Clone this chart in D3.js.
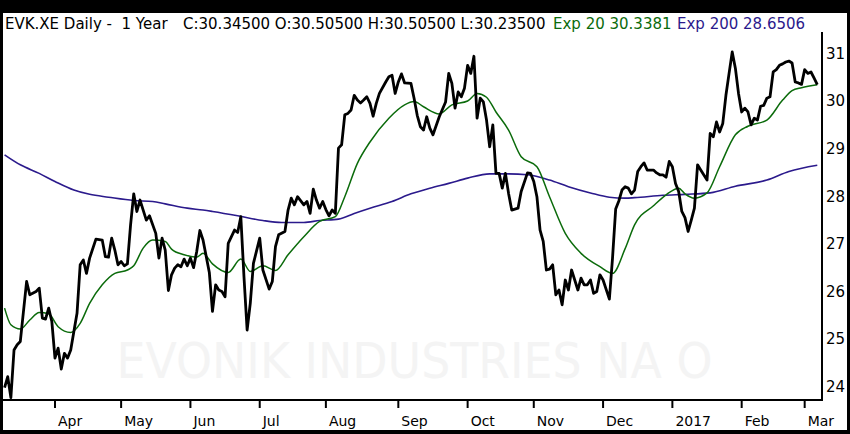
<!DOCTYPE html>
<html>
<head>
<meta charset="utf-8">
<script src="https://cdn.jsdelivr.net/npm/d3@7"></script>
<style>
  body { margin: 0; background: #000; }
  text { font-family: "DejaVu Sans", Verdana, sans-serif; white-space: pre; }
</style>
</head>
<body>
<div id="chart"></div>
<script>
// daily closes (trading days only)
var closeDates = [
  "2016-03-10","2016-03-11","2016-03-14","2016-03-15","2016-03-16","2016-03-17","2016-03-21","2016-03-22",
  "2016-03-24","2016-03-25","2016-03-28","2016-03-29","2016-03-30","2016-03-31",
  "2016-04-01","2016-04-04","2016-04-05","2016-04-06","2016-04-07","2016-04-08","2016-04-11","2016-04-12",
  "2016-04-13","2016-04-14","2016-04-15","2016-04-18","2016-04-20","2016-04-22","2016-04-25","2016-04-26",
  "2016-04-27","2016-04-28","2016-04-29",
  "2016-05-02","2016-05-03","2016-05-04","2016-05-05","2016-05-06","2016-05-09","2016-05-10","2016-05-12",
  "2016-05-13","2016-05-17","2016-05-18","2016-05-19","2016-05-20","2016-05-23","2016-05-24","2016-05-25",
  "2016-05-26","2016-05-27","2016-05-30","2016-05-31",
  "2016-06-01","2016-06-02","2016-06-03","2016-06-06","2016-06-07","2016-06-09","2016-06-10","2016-06-13",
  "2016-06-14","2016-06-15","2016-06-16","2016-06-17","2016-06-21","2016-06-22","2016-06-23","2016-06-24",
  "2016-06-27","2016-06-28","2016-06-29",
  "2016-07-01","2016-07-04","2016-07-06","2016-07-07","2016-07-08","2016-07-11","2016-07-13","2016-07-14",
  "2016-07-15","2016-07-18","2016-07-19","2016-07-21","2016-07-22","2016-07-25","2016-07-26","2016-07-27",
  "2016-07-28","2016-07-29",
  "2016-08-01","2016-08-02","2016-08-03","2016-08-04","2016-08-05","2016-08-08","2016-08-09","2016-08-10",
  "2016-08-11","2016-08-12","2016-08-15","2016-08-16","2016-08-17","2016-08-18","2016-08-19","2016-08-22",
  "2016-08-23","2016-08-24","2016-08-26","2016-08-29","2016-08-30","2016-08-31",
  "2016-09-01","2016-09-02","2016-09-05","2016-09-07","2016-09-08","2016-09-09","2016-09-12","2016-09-13",
  "2016-09-14","2016-09-15","2016-09-16","2016-09-20","2016-09-22","2016-09-23","2016-09-26","2016-09-27",
  "2016-09-28","2016-09-29","2016-09-30",
  "2016-10-03","2016-10-04","2016-10-05","2016-10-06","2016-10-07","2016-10-10","2016-10-11","2016-10-12",
  "2016-10-13","2016-10-14","2016-10-17","2016-10-18","2016-10-19","2016-10-20","2016-10-21","2016-10-25",
  "2016-10-26","2016-10-28","2016-10-31",
  "2016-11-01","2016-11-02","2016-11-03","2016-11-04","2016-11-07","2016-11-08","2016-11-09","2016-11-10",
  "2016-11-11","2016-11-14","2016-11-15","2016-11-16","2016-11-17","2016-11-18","2016-11-21","2016-11-22",
  "2016-11-23","2016-11-24","2016-11-25","2016-11-28","2016-11-29","2016-11-30",
  "2016-12-01","2016-12-05","2016-12-06","2016-12-07","2016-12-08","2016-12-09","2016-12-12","2016-12-13",
  "2016-12-14","2016-12-15","2016-12-16","2016-12-19","2016-12-20","2016-12-21","2016-12-23","2016-12-26",
  "2016-12-27","2016-12-28","2016-12-29","2016-12-30",
  "2017-01-02","2017-01-03","2017-01-04","2017-01-05","2017-01-06","2017-01-09","2017-01-10","2017-01-11",
  "2017-01-12","2017-01-13","2017-01-17","2017-01-18","2017-01-19","2017-01-20","2017-01-23","2017-01-24",
  "2017-01-25","2017-01-26","2017-01-27","2017-01-30","2017-01-31",
  "2017-02-01","2017-02-02","2017-02-03","2017-02-06","2017-02-07","2017-02-08","2017-02-09","2017-02-10",
  "2017-02-13","2017-02-14","2017-02-15","2017-02-16","2017-02-17","2017-02-20","2017-02-21","2017-02-22",
  "2017-02-23","2017-02-24","2017-02-27","2017-02-28",
  "2017-03-01","2017-03-02","2017-03-03","2017-03-06","2017-03-07"
];
var closeValues = [
  23.98,24.21,23.77,24.77,24.88,24.95,26.21,25.93,
  26.00,26.07,25.44,25.42,25.65,25.37,
  24.60,24.81,24.37,24.70,24.60,24.77,25.16,25.54,
  26.56,26.66,26.38,26.70,27.10,27.08,26.73,26.72,
  27.12,26.87,26.56,
  26.63,26.54,26.58,27.40,28.05,27.68,27.92,27.50,
  27.59,27.22,26.70,27.12,26.87,26.02,26.35,26.49,
  26.56,26.52,26.68,26.54,
  26.70,26.50,26.84,27.28,27.08,26.40,25.58,26.14,
  26.03,26.00,25.89,27.01,27.29,27.24,27.57,26.31,
  25.19,25.75,26.59,
  27.12,26.45,26.05,26.21,26.94,27.19,27.26,27.71,
  27.96,27.82,27.99,27.82,27.89,27.64,28.15,27.92,
  27.75,27.89,
  27.72,27.59,27.71,27.64,29.01,29.08,29.71,29.74,
  29.81,30.12,30.02,29.96,30.02,30.09,29.95,29.68,
  29.95,30.16,30.40,30.51,30.54,30.16,
  30.40,30.57,30.38,30.37,30.06,29.70,29.46,29.39,
  29.67,29.43,29.29,29.67,29.98,30.58,30.37,29.85,
  30.19,30.09,30.27,
  30.75,30.58,30.94,29.64,30.06,29.98,29.60,29.04,
  29.50,28.48,28.48,28.17,28.48,28.06,27.71,27.75,
  28.10,28.49,28.48,
  28.31,27.99,27.29,27.05,26.45,26.47,26.56,25.93,
  26.03,25.72,26.24,26.03,26.45,26.24,26.03,26.28,
  26.14,26.14,26.24,25.96,26.00,26.35,
  26.24,25.84,26.70,27.73,27.90,28.13,28.20,28.17,
  28.05,28.13,28.52,28.62,28.70,28.55,28.55,28.49,
  28.45,28.45,28.40,28.73,
  28.62,28.27,28.10,27.68,27.55,27.26,27.50,27.75,
  28.66,28.55,28.34,29.32,29.25,29.56,29.35,29.53,
  30.12,30.58,31.03,30.69,30.16,
  29.77,29.85,29.77,29.50,29.64,29.60,29.89,29.91,
  30.06,30.09,30.61,30.66,30.75,30.78,30.82,30.84,
  30.80,30.40,30.38,30.35,
  30.66,30.58,30.61,30.48,30.345
];

// 20-day exponential average
var ema20Dates = [
  "2016-03-10","2016-03-14","2016-03-17","2016-03-22","2016-03-25","2016-03-30","2016-04-04","2016-04-08",
  "2016-04-13","2016-04-18","2016-04-22","2016-04-28","2016-05-04","2016-05-06","2016-05-11","2016-05-16",
  "2016-05-20","2016-05-24","2016-05-30","2016-06-03","2016-06-07","2016-06-10","2016-06-17","2016-06-23",
  "2016-06-28","2016-07-04","2016-07-08","2016-07-14","2016-07-21","2016-07-28","2016-08-04","2016-08-09",
  "2016-08-15","2016-08-19","2016-08-29","2016-09-05","2016-09-08","2016-09-13","2016-09-20","2016-09-26",
  "2016-10-03","2016-10-06","2016-10-11","2016-10-14","2016-10-20","2016-10-26","2016-11-02","2016-11-08",
  "2016-11-15","2016-11-22","2016-11-30","2016-12-06","2016-12-12","2016-12-15","2016-12-23","2016-12-29",
  "2017-01-04","2017-01-06","2017-01-11","2017-01-17","2017-01-23","2017-01-30","2017-02-03","2017-02-13",
  "2017-02-20","2017-02-23","2017-02-28","2017-03-07"
];
var ema20Values = [
  25.65,25.30,25.21,25.40,25.56,25.53,25.26,25.14,
  25.33,25.75,26.14,26.38,26.45,26.54,26.91,27.08,
  27.05,26.89,26.77,26.72,26.80,26.58,26.40,26.68,
  26.42,26.54,26.44,26.77,27.15,27.47,27.57,27.99,
  28.69,29.14,29.64,29.92,29.99,29.88,29.73,29.92,
  30.00,30.16,30.08,29.77,29.39,28.83,28.62,27.99,
  27.22,26.80,26.52,26.38,26.90,27.40,27.80,28.03,
  28.17,28.05,27.96,28.07,28.62,29.29,29.47,29.60,
  30.02,30.22,30.28,30.34
];

// 200-day exponential average
var ema200Dates = [
  "2016-03-10","2016-03-17","2016-03-25","2016-04-01","2016-04-11","2016-04-18","2016-04-26","2016-05-06",
  "2016-05-16","2016-05-20","2016-05-31","2016-06-07","2016-06-10","2016-06-22","2016-07-04","2016-07-12",
  "2016-07-21","2016-07-28","2016-08-05","2016-08-12","2016-08-19","2016-08-30","2016-09-07","2016-09-15",
  "2016-09-23","2016-10-03","2016-10-12","2016-10-20","2016-10-28","2016-11-08","2016-11-16","2016-11-25",
  "2016-12-05","2016-12-12","2016-12-15","2016-12-28","2017-01-06","2017-01-18","2017-01-30","2017-02-13",
  "2017-02-22","2017-03-07"
];
var ema200Values = [
  28.87,28.66,28.48,28.31,28.13,28.04,27.98,27.91,
  27.89,27.84,27.75,27.71,27.68,27.59,27.49,27.45,
  27.45,27.49,27.52,27.64,27.75,27.89,28.05,28.17,
  28.27,28.38,28.47,28.47,28.45,28.34,28.20,28.07,
  27.98,27.96,27.97,28.02,28.04,28.07,28.21,28.34,
  28.52,28.65
];

var priceTicks = [24, 25, 26, 27, 28, 29, 30, 31];
var priceRange = [23.72, 31.45];

var titleText = "EVK.XE Daily -  1 Year";
var ohlcText = "C:30.34500 O:30.50500 H:30.50500 L:30.23500";
var ema20Label = "Exp 20 30.3381";
var ema200Label = "Exp 200 28.6506";
var watermarkText = "EVONIK INDUSTRIES NA O";

var width = 850, height = 434;
var frame = {left: 3, top: 13, right: 847, bottom: 430};
var plot = {left: 3, top: 32, right: 822, bottom: 400};

var parse = d3.timeParse("%Y-%m-%d");
var firstDay = parse(closeDates[0]);
var lastDay = parse(closeDates[closeDates.length - 1]);

function isWeekday(t) { var w = t.getDay(); return w !== 0 && w !== 6; }
// position on a trading-day axis (weekends are skipped)
function session(d) { return d3.timeDay.range(firstDay, d).filter(isWeekday).length; }

var x = d3.scaleLinear()
    .domain([-0.5, session(lastDay) + 1.5])
    .range([plot.left, plot.right]);
var y = d3.scaleLinear()
    .domain(priceRange)
    .range([plot.bottom, plot.top]);

function series(dates, values) {
    return dates.map(function(d, i) { return {date: parse(d), value: values[i]}; });
}
var closes = series(closeDates, closeValues);
var ema20 = series(ema20Dates, ema20Values);
var ema200 = series(ema200Dates, ema200Values);

var svg = d3.select("#chart").append("svg")
    .attr("width", width)
    .attr("height", height);

svg.append("rect").attr("width", width).attr("height", height).attr("fill", "#000");
svg.append("rect")
    .attr("x", frame.left).attr("y", frame.top)
    .attr("width", frame.right - frame.left).attr("height", frame.bottom - frame.top)
    .attr("fill", "#fff");

svg.append("clipPath").attr("id", "clip")
  .append("rect")
    .attr("x", plot.left).attr("y", plot.top)
    .attr("width", plot.right - plot.left).attr("height", plot.bottom - plot.top);

// faint watermark
svg.append("text")
    .attr("x", (plot.left + plot.right) / 2 + 2)
    .attr("y", 378)
    .attr("text-anchor", "middle")
    .attr("font-size", 50)
    .attr("textLength", 596)
    .attr("lengthAdjust", "spacingAndGlyphs")
    .attr("fill", "#f4f4f4")
    .text(watermarkText);

var lines = svg.append("g").attr("clip-path", "url(#clip)");

function drawLine(data, color, w, curve) {
    var line = d3.line()
        .x(function(d) { return x(session(d.date)); })
        .y(function(d) { return y(d.value); })
        .curve(curve);
    lines.append("path")
        .datum(data)
        .attr("d", line)
        .attr("fill", "none")
        .attr("stroke", color)
        .attr("stroke-width", w)
        .attr("stroke-linejoin", "round");
}

drawLine(ema200, "#2b1a8c", 1.6, d3.curveMonotoneX);
drawLine(ema20, "#0b6b0b", 1.5, d3.curveMonotoneX);
drawLine(closes, "#000", 2.8, d3.curveLinear);

// axes: right and bottom frame lines
svg.append("line")
    .attr("x1", plot.right).attr("x2", plot.right)
    .attr("y1", plot.top).attr("y2", plot.bottom + 1)
    .attr("stroke", "#000").attr("stroke-width", 2);
svg.append("line")
    .attr("x1", plot.left).attr("x2", plot.right + 1)
    .attr("y1", plot.bottom).attr("y2", plot.bottom)
    .attr("stroke", "#000").attr("stroke-width", 2);

// price labels on the right
svg.append("g").selectAll("text")
    .data(priceTicks)
  .enter().append("text")
    .attr("x", plot.right + 4)
    .attr("y", function(d) { return y(d); })
    .attr("dy", "0.36em")
    .attr("font-size", 15)
    .attr("fill", "#000")
    .text(function(d) { return d; });

// month ticks at the first trading day of each month
var months = d3.timeMonth.range(d3.timeMonth.ceil(firstDay), lastDay).map(function(m) {
    var d = m;
    while (!isWeekday(d)) d = d3.timeDay.offset(d, 1);
    return {month: m, day: d};
});
var monthFmt = d3.timeFormat("%b"), yearFmt = d3.timeFormat("%Y");

var tick = svg.append("g").selectAll("g")
    .data(months)
  .enter().append("g")
    .attr("transform", function(d) { return "translate(" + x(session(d.day)) + ",0)"; });
tick.append("line")
    .attr("y1", plot.bottom).attr("y2", plot.bottom + 8)
    .attr("stroke", "#000").attr("stroke-width", 2);
tick.append("text")
    .attr("x", 3)
    .attr("y", 426)
    .attr("font-size", 14)
    .attr("fill", "#000")
    .text(function(d) { return d.month.getMonth() === 0 ? yearFmt(d.month) : monthFmt(d.month); });

// header line
var header = svg.append("g").attr("font-size", 15);
header.append("text").attr("x", 5).attr("y", 29).attr("fill", "#000").text(titleText);
header.append("text").attr("x", 183).attr("y", 29).attr("fill", "#000").text(ohlcText);
header.append("text").attr("x", 553).attr("y", 29).attr("fill", "#0b6b0b").text(ema20Label);
header.append("text").attr("x", 677).attr("y", 29).attr("fill", "#2b1a8c").text(ema200Label);
</script>
</body>
</html>
